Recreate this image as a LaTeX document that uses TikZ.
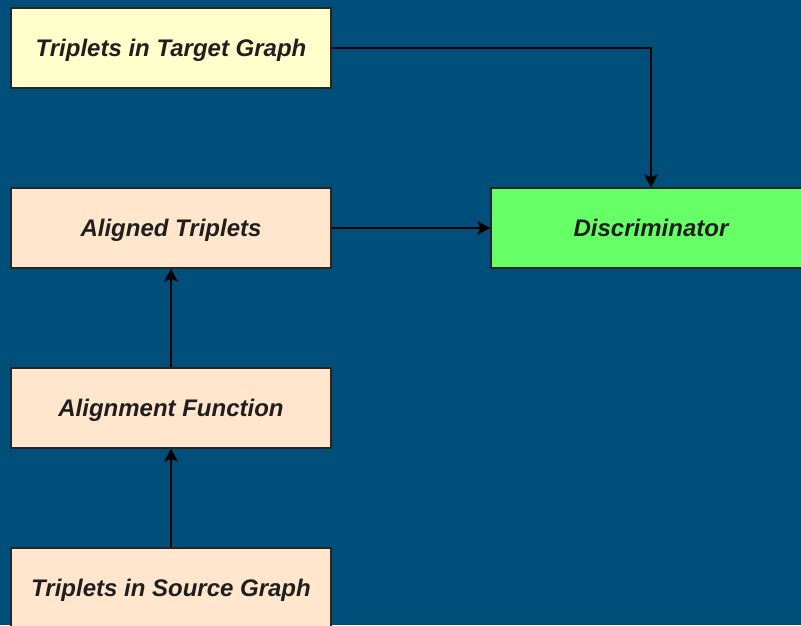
\documentclass[tikz,border=0pt]{standalone}
\usepackage{fontspec}
\setmainfont{Liberation Sans}
\usetikzlibrary{arrows.meta}
\definecolor{bgblue}{HTML}{004F7A}
\definecolor{yel}{HTML}{FFFFCC}
\definecolor{peach}{HTML}{FFE6CC}
\definecolor{grn}{HTML}{66FF66}
\begin{document}
\begin{tikzpicture}[x=1pt,y=-1pt,
  box/.style={draw=black!85, line width=1.5pt, minimum width=320pt, minimum height=80pt, inner sep=0pt,
    text depth=0pt, font=\fontsize{24}{28}\selectfont\bfseries\itshape, text=black!88},
  conn/.style={draw=black, line width=1.5pt, -{Stealth[length=13pt,width=14pt,inset=3pt]}}]
\useasboundingbox (0,0) rectangle (801,625);
\fill[bgblue] (0,0) rectangle (801,625);
\node[box, fill=yel] (tgt) at (171,48) {Triplets in Target Graph};
\node[box, fill=peach] (al) at (171,228) {Aligned Triplets};
\node[box, fill=peach] (af) at (171,408) {Alignment Function};
\node[box, fill=peach] (src) at (171,588) {Triplets in Source Graph};
\node[box, fill=grn] (dis) at (651,228) {Discriminator};
\draw[conn] (tgt.east) -| (dis.north);
\draw[conn] (al.east) -- (dis.west);
\draw[conn] (af.north) -- (al.south);
\draw[conn] (src.north) -- (af.south);
\end{tikzpicture}
\end{document}
